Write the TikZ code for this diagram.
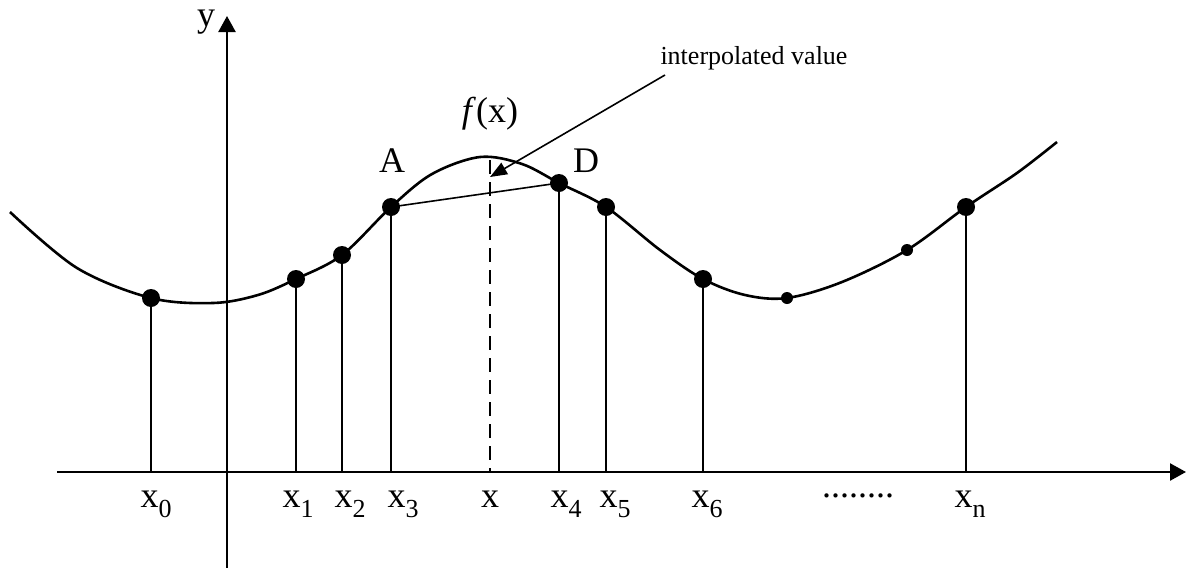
\documentclass[tikz,border=0pt]{standalone}
\usepackage{fontspec}
\setmainfont{Liberation Serif}
\usetikzlibrary{arrows.meta}
\newcommand{\sbx}[2]{#1\raisebox{-0.28em}{\fontsize{26}{26}\selectfont #2}}
\begin{document}
\begin{tikzpicture}[x=1pt,y=-1pt,
  lbl/.style={font=\fontsize{36}{40}\selectfont, inner sep=0pt},
  axis/.style={line width=2.4pt, -{Triangle[width=17pt,length=16pt]}},
  curve/.style={line width=2.6pt},
  stem/.style={line width=2.2pt},
  bigdot/.style={circle, fill=black, inner sep=0pt, minimum size=18pt},
  smalldot/.style={circle, fill=black, inner sep=0pt, minimum size=12pt}]
\useasboundingbox (0,0) rectangle (1187,568);
% axes
\coordinate (xs) at (57,472);
\coordinate (xe) at (1186,472);
\coordinate (ys) at (227,568);
\coordinate (ye) at (227,16);
\draw[axis] (xs) -- (xe);
\draw[axis] (ys) -- (ye);
\node[lbl] (ylab) at (206,22) {y};
% curve points
\coordinate (c0) at (10,212);
\coordinate (c1) at (77,268);
\coordinate (p0) at (151,298);
\coordinate (c2) at (213,303);
\coordinate (c3) at (258,295);
\coordinate (p1) at (296,279);
\coordinate (p2) at (342,255);
\coordinate (p3) at (391,207);
\coordinate (c4) at (432,174);
\coordinate (c5) at (480,157);
\coordinate (c6) at (522,164);
\coordinate (p4) at (559,183);
\coordinate (p5) at (606,207);
\coordinate (c7) at (660,250);
\coordinate (p6) at (703,279);
\coordinate (c8) at (745,295);
\coordinate (q1) at (787,298);
\coordinate (c9) at (842,282);
\coordinate (q2) at (907,250);
\coordinate (pn) at (966,207);
\coordinate (c10) at (1017,173);
\coordinate (c11) at (1057,142);
\draw[curve] plot[smooth, tension=0.55] coordinates {(c0) (c1) (p0) (c2) (c3) (p1) (p2) (p3) (c4) (c5) (c6) (p4) (p5) (c7) (p6) (c8) (q1) (c9) (q2) (pn) (c10) (c11)};
% stems
\foreach \p in {p0,p1,p2,p3,p4,p5,p6,pn}{
  \draw[stem] (\p) -- (\p |- xs);
}
% chord A-D
\draw[line width=1.6pt] (p3) -- (p4);
% dashed line at x
\coordinate (xt) at (490,160);
\draw[stem, dash pattern=on 14pt off 8pt] (xt) -- (xt |- xs);
% dots
\foreach \p in {p0,p1,p2,p3,p4,p5,p6,pn}{
  \node[bigdot] at (\p) {};
}
\node[smalldot] at (q1) {};
\node[smalldot] at (q2) {};
% labels
\node[lbl] (A) at (392,161) {A};
\node[lbl] (D) at (586,161) {D};
\node[lbl] (fx) at (490,114) {\textit{f}(x)};
\node[font=\fontsize{26}{30}\selectfont, inner sep=0pt] (iv) at (754,58) {interpolated value};
\coordinate (ivs) at (665,75);
\coordinate (tip) at (490,177);
\draw[line width=1.6pt, -{Triangle[width=13pt,length=17pt]}] (ivs) -- (tip);
% x labels
\node[lbl, anchor=base] (l0) at (156,507) {\sbx{x}{0}};
\node[lbl, anchor=base] (l1) at (298,507) {\sbx{x}{1}};
\node[lbl, anchor=base] (l2) at (350,507) {\sbx{x}{2}};
\node[lbl, anchor=base] (l3) at (403,507) {\sbx{x}{3}};
\node[lbl, anchor=base] (lx) at (490,507) {x};
\node[lbl, anchor=base] (l4) at (566,507) {\sbx{x}{4}};
\node[lbl, anchor=base] (l5) at (615,507) {\sbx{x}{5}};
\node[lbl, anchor=base] (l6) at (707,507) {\sbx{x}{6}};
\node[lbl, anchor=base] (ld) at (858,507) {\raisebox{0.27em}{........}};
\node[lbl, anchor=base] (ln) at (970,507) {\sbx{x}{n}};
\end{tikzpicture}
\end{document}
